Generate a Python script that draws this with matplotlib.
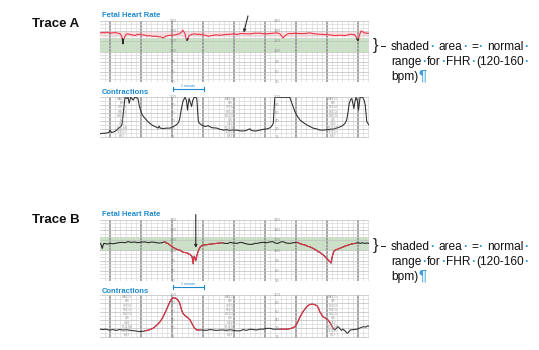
import matplotlib
matplotlib.use("Agg")
import matplotlib.pyplot as plt
import numpy as np
from matplotlib.ticker import MultipleLocator
from matplotlib.lines import Line2D

plt.rcParams["font.family"] = ["Liberation Sans", "DejaVu Sans"]

# ---------------- data (time in seconds from the first minute line) ----------------
fhr_a_t = [-19, -14, -10, -5, 0, 5, 10, 15, 19, 22, 24, 25, 26, 28, 31, 35, 39, 44, 48, 54,
           58, 63, 68, 73, 77, 82, 87, 92, 97, 100, 103, 108, 112, 116, 121, 126, 131, 135, 138, 141,
           145, 147, 149, 151, 153, 159, 165, 170, 174, 179, 184, 190, 197, 205, 213, 222, 232, 240, 246, 252,
           259, 265, 271, 280, 290, 300, 310, 316, 323, 329, 335, 339, 345, 352, 358, 366, 377, 382, 387, 392,
           397, 406, 415, 426, 435, 445, 455, 465, 470, 474, 477, 478, 480, 481, 482, 486, 492, 497, 501]
fhr_a = [175, 176, 175, 177, 174, 175, 176, 174, 173, 167, 157, 143, 155, 161, 171, 172, 170, 169, 167, 171,
         170, 169, 168, 166, 167, 165, 165, 164, 163, 162, 160, 165, 167, 168, 168, 169, 171, 173, 177, 183,
         173, 159, 153, 158, 167, 171, 172, 170, 171, 169, 168, 165, 167, 169, 168, 170, 171, 172, 170, 173,
         173, 172, 172, 174, 174, 172, 173, 174, 175, 172, 160, 167, 173, 173, 174, 173, 173, 174, 175, 173,
         172, 171, 170, 169, 167, 168, 167, 171, 170, 169, 161, 157, 152, 156, 165, 181, 175, 174, 174]

uc_a_t = [-19, -16, -11, -6, -2, 0, 3, 8, 12, 16, 20, 23, 26, 29, 33, 35, 37, 40, 43, 45,
          48, 51, 54, 57, 61, 64, 68, 72, 77, 82, 87, 93, 95, 97, 103, 110, 116, 123, 127, 130,
          133, 135, 138, 141, 145, 148, 150, 151, 153, 156, 158, 160, 163, 166, 168, 171, 174, 177, 184, 190,
          197, 207, 213, 219, 226, 232, 238, 245, 252, 258, 264, 268, 271, 274, 278, 284, 290, 297, 304, 310,
          313, 316, 319, 325, 330, 336, 342, 348, 352, 358, 363, 368, 375, 381, 387, 393, 400, 406, 413, 420,
          426, 433, 439, 445, 450, 455, 458, 461, 463, 466, 468, 470, 472, 474, 476, 479, 481, 484, 487, 489,
          492, 494, 497, 501]
uc_a = [9, 10, 10, 11, 12, 18, 12, 14, 17, 22, 26, 31, 64, 100, 97, 100, 85, 100, 96, 93,
        100, 99, 97, 77, 60, 53, 47, 41, 35, 30, 27, 23, 28, 23, 22, 23, 23, 27, 30, 33,
        38, 47, 70, 89, 100, 92, 68, 80, 97, 85, 77, 92, 100, 100, 97, 39, 34, 31, 27, 29,
        24, 23, 20, 18, 19, 17, 18, 18, 16, 16, 17, 20, 21, 17, 16, 16, 18, 20, 21, 24,
        28, 35, 100, 100, 100, 100, 100, 100, 85, 64, 52, 43, 36, 31, 27, 23, 21, 18, 18, 19,
        20, 21, 23, 26, 29, 35, 43, 65, 85, 95, 97, 85, 72, 88, 100, 90, 68, 100, 100, 100,
        92, 81, 39, 31]

fhr_b_t = [-19, -17, -15, -13, -12, -8, -4, 0, 5, 10, 16, 23, 29, 35, 41, 48, 54, 60, 68, 75,
           80, 87, 94, 101, 106, 109, 112, 116, 120, 125, 130, 135, 138, 141, 145, 149, 152, 155, 158, 159,
           161, 162, 163, 165, 166, 168, 170, 174, 177, 180, 187, 194, 200, 207, 212, 217, 222, 228, 233, 238,
           246, 252, 257, 263, 270, 275, 280, 285, 290, 296, 303, 309, 315, 320, 325, 330, 335, 341, 348, 355,
           362, 367, 372, 378, 383, 387, 392, 397, 400, 403, 406, 409, 412, 416, 420, 422, 424, 426, 428, 430,
           432, 434, 437, 439, 444, 449, 455, 461, 467, 474, 480, 485, 488, 493, 497, 501]
fhr_b = [141, 136, 126, 138, 141, 140, 139, 141, 140, 141, 143, 144, 143, 146, 144, 145, 143, 145, 145, 143,
         145, 144, 142, 143, 146, 142, 141, 136, 131, 127, 123, 121, 118, 115, 114, 113, 110, 108, 104, 100,
         81, 95, 103, 96, 91, 104, 116, 129, 134, 136, 137, 139, 140, 141, 142, 143, 141, 141, 144, 142,
         141, 144, 143, 140, 138, 138, 141, 141, 143, 144, 143, 145, 146, 142, 141, 145, 146, 142, 141, 143,
         144, 141, 138, 136, 132, 131, 127, 123, 120, 116, 115, 111, 108, 102, 96, 93, 89, 87, 83, 101,
         112, 119, 122, 123, 126, 129, 133, 136, 139, 141, 143, 141, 143, 141, 142, 141]
fhr_b_decels = [(106, 217), (362, 474)]

uc_b_t = [-19, -14, -8, -3, 0, 6, 12, 18, 25, 32, 40, 48, 58, 64, 68, 75, 83, 90, 97, 102,
          106, 111, 116, 119, 122, 126, 130, 133, 135, 138, 141, 145, 149, 152, 155, 158, 161, 164, 168, 174,
          180, 186, 193, 200, 206, 213, 219, 226, 232, 239, 245, 252, 258, 264, 271, 277, 284, 290, 297, 303,
          310, 316, 323, 329, 335, 342, 348, 353, 358, 363, 368, 374, 381, 386, 391, 396, 401, 404, 406, 409,
          412, 416, 422, 426, 430, 432, 435, 438, 441, 444, 448, 451, 455, 459, 462, 465, 471, 478, 484, 490,
          495, 499, 501]
uc_b = [18, 17, 18, 16, 16, 17, 15, 17, 16, 17, 15, 14, 12, 13, 14, 16, 20, 27, 36, 46,
        56, 70, 84, 90, 93, 93, 90, 85, 80, 66, 56, 51, 47, 44, 40, 33, 26, 20, 16, 16,
        16, 15, 17, 16, 15, 16, 16, 15, 17, 15, 14, 14, 17, 15, 18, 17, 16, 18, 18, 20,
        20, 18, 18, 18, 18, 18, 19, 21, 24, 34, 48, 61, 72, 77, 78, 77, 74, 67, 60, 54,
        48, 45, 40, 33, 24, 20, 16, 20, 24, 21, 15, 18, 14, 8, 11, 16, 17, 18, 21, 24,
        23, 26, 25]
uc_b_contractions = [(68, 174), (329, 432)]

fhr_labels = [30, 60, 90, 120, 150, 180, 210]
uc_labels = [0, 20, 40, 60, 80, 100]
uc_channels = ["MECG", "HR", "SPO2", "FECG", "DECG", "US", "US2", "PULSE", "TOCO", "EXT"]
label_cols = [122, 323]
normal_band = (120, 160)

# ---------------- layout helpers ----------------
W, H = 539, 350
fig = plt.figure(figsize=(W / 100, H / 100), dpi=100)
T0, T1 = -19.4, 501.3
RED = "#ee3346"
INK = "#2b2b2b"
BLUE = "#1f8ad0"
GRID_MINOR = "#d4d4d4"


def panel(y0, y1, ylim, minor_y, major_y):
    ax = fig.add_axes([100 / W, 1 - y1 / H, 269 / W, (y1 - y0) / H])
    ax.set_xlim(T0, T1)
    ax.set_ylim(*ylim)
    ax.xaxis.set_major_locator(MultipleLocator(60))
    ax.xaxis.set_minor_locator(MultipleLocator(10))
    ax.yaxis.set_major_locator(MultipleLocator(major_y))
    ax.yaxis.set_minor_locator(MultipleLocator(minor_y))
    ax.grid(which="minor", color=GRID_MINOR, lw=0.45)
    ax.grid(which="major", axis="y", color="#c2c2c2", lw=0.55)
    ax.grid(which="major", axis="x", color="#8e8e8e", lw=1.1)
    ax.set_axisbelow("line")
    ax.tick_params(which="both", length=0, labelbottom=False, labelleft=False)
    for s in ax.spines.values():
        s.set_visible(False)
    ax.axvline(T1, color="#b0b0b0", lw=0.6)
    ax.patch.set_alpha(0)
    return ax


def fhr_panel(y0, y1, title_y):
    ax = panel(y0, y1, (30, 210), 10, 30)
    ax.axhspan(*normal_band, color="#c8e4c2", zorder=1, lw=0)
    for c in label_cols:
        for v in fhr_labels:
            ax.text(c, v, str(v), fontsize=3.0, color="#8a8a8a", ha="center",
                    va="center", clip_on=False, zorder=3)
    fig.text(102 / W, 1 - title_y / H, "Fetal Heart Rate", fontsize=5.5,
             fontweight="bold", color=BLUE, va="baseline")
    return ax


def uc_panel(y0, y1, title_y, text_cols):
    ax = panel(y0, y1, (-2, 100), 10, 20)
    for c in label_cols:
        for v in uc_labels:
            ax.text(c, v, str(v), fontsize=3.0, color="#8a8a8a", ha="center",
                    va="center", clip_on=False, zorder=3)
    for c in text_cols:
        for i, name in enumerate(uc_channels):
            ax.text(c, 0.95 - i * 0.1, name, fontsize=2.4, color="#9a9a9a",
                    ha="center", va="center", transform=ax.get_xaxis_transform(), zorder=3)
    fig.text(102 / W, 1 - title_y / H, "Contractions", fontsize=5.5,
             fontweight="bold", color=BLUE, va="baseline")
    return ax


def minute_bar(ax, yfrac, tfrac):
    tr = ax.get_xaxis_transform()
    ax.plot([121, 182], [yfrac, yfrac], color=BLUE, lw=0.8, transform=tr, clip_on=False)
    for x in (121, 182):
        ax.plot([x, x], [yfrac - 0.035, yfrac + 0.035], color=BLUE, lw=0.8,
                transform=tr, clip_on=False)
    ax.text(151.5, tfrac, "1 minute", fontsize=2.6, color=BLUE, ha="center",
            va="center", transform=tr, clip_on=False)


def windowed(t, v, windows):
    t = np.asarray(t, float)
    v = np.asarray(v, float)
    keep = np.zeros(len(t), bool)
    for a, b in windows:
        keep |= (t >= a) & (t <= b)
    return np.ma.masked_where(~keep, v)


# ---------------- Trace A ----------------
ax_fa = fhr_panel(21, 82, 17.3)
ax_fa.axhspan(163, 177, color="#fbe1e3", zorder=0.9, lw=0)
fa = np.asarray(fhr_a, float)
ax_fa.plot(fhr_a_t, fa, color=RED, lw=0.8, zorder=2)
ax_fa.plot(fhr_a_t, np.ma.masked_where(fa > 158, fa), color=INK, lw=0.9, zorder=2.1)
ax_fa.annotate("", xy=(259, 176), xytext=(267, 225), annotation_clip=False,
               arrowprops=dict(arrowstyle="-|>", color=INK, lw=0.8, mutation_scale=4,
                               shrinkA=0, shrinkB=0))
minute_bar(ax_fa, -0.115, -0.07)

ax_ua = uc_panel(97.3, 138.1, 94.5, [23, 232, 432])
ax_ua.plot(uc_a_t, uc_a, color=INK, lw=0.75, zorder=2)

# ---------------- Trace B ----------------
ax_fb = fhr_panel(220, 281, 216)
ax_fb.plot(fhr_b_t, fhr_b, color=INK, lw=0.8, zorder=2)
ax_fb.plot(fhr_b_t, windowed(fhr_b_t, fhr_b, fhr_b_decels), color=RED, lw=0.8, zorder=2.1)
ax_fb.annotate("", xy=(166, 128), xytext=(166, 226), annotation_clip=False,
               arrowprops=dict(arrowstyle="-|>", color=INK, lw=0.8, mutation_scale=4,
                               shrinkA=0, shrinkB=0))
minute_bar(ax_fb, -0.098, -0.055)

ax_ub = uc_panel(295, 337.5, 292.7, [33, 232, 432])
ax_ub.plot(uc_b_t, uc_b, color=INK, lw=0.75, zorder=2)
ax_ub.plot(uc_b_t, windowed(uc_b_t, uc_b, uc_b_contractions), color=RED, lw=0.8, zorder=2.1)

# ---------------- side labels ----------------
for label, base in (("Trace A", 27), ("Trace B", 222.7)):
    fig.text(32 / W, 1 - base / H, label, fontsize=9.5, fontweight="bold",
             color="#111111", va="baseline")

renderer = fig.canvas.get_renderer()
DOT = "#2f95dc"


def text_line(x, base, pieces, width=None, size=8.6):
    arts = []
    for s, col in pieces:
        fs = size + 2.5 if s == "¶" else size
        fw = "bold" if s == "·" else "normal"
        t = fig.text(0, 1 - base / H, s, fontsize=fs, color=col, va="baseline",
                     ha="left", fontweight=fw)
        arts.append(t)
    widths = [a.get_window_extent(renderer).width for a in arts]
    n_gaps = sum(1 for s, _ in pieces[:-1] if s == "·")
    small = 0.3
    gap = 3.0
    if width is not None and n_gaps:
        gap = (width - sum(widths) - small * (len(pieces) - n_gaps)) / n_gaps
    cur = x
    for (s, _), a, w in zip(pieces, arts, widths):
        a.set_x(cur / W)
        cur += w + (gap if s == "·" else small)


line1 = [("shaded", "#111"), ("·", DOT), ("area", "#111"), ("·", DOT), ("=", "#111"),
         ("·", DOT), ("normal", "#111"), ("·", DOT)]
line2 = [("range", "#111"), ("·", DOT), ("for", "#111"), ("·", DOT), ("FHR", "#111"),
         ("·", DOT), ("(120-160", "#111"), ("·", DOT)]
line3 = [("bpm)", "#111"), ("¶", "#3d9be0")]

for top in (0, 200):
    fig.text(375.5 / W, 1 - (45.5 + top) / H, "}", fontsize=12, color="#222",
             ha="center", va="center")
    fig.add_artist(Line2D([381 / W, 385 / W], [1 - (45.5 + top) / H] * 2,
                          color="#222", lw=0.7))
    text_line(391, 50 + top, line1, width=137)
    text_line(391, 65 + top, line2, width=137)
    text_line(391, 80 + top, line3)

fig.savefig("out.png", dpi=100)
